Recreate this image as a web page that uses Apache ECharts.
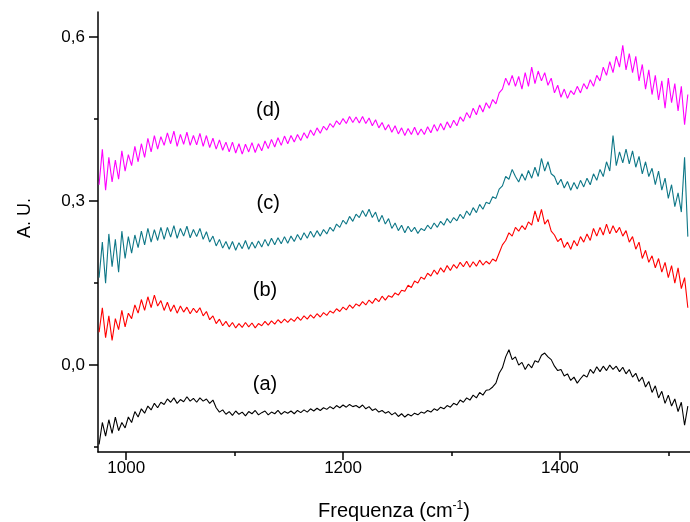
<!DOCTYPE html>
<html>
<head>
<meta charset="utf-8">
<script src="https://cdn.jsdelivr.net/npm/echarts@6/dist/echarts.min.js"></script>
<style>
html,body{margin:0;padding:0;background:#fff;}
#chart{width:690px;height:522px;}
</style>
</head>
<body>
<div id="chart"></div>
<script>
// Sampling of the spectra (cm^-1): first frequency and spacing
const freqStart = 975;
const freqStep = 3;

// (a) black
const seriesA = [
  -0.145,-0.105,-0.130,-0.100,-0.125,-0.095,-0.120,-0.105,-0.115,-0.095,
  -0.105,-0.085,-0.095,-0.080,-0.088,-0.075,-0.082,-0.070,-0.078,-0.068,
  -0.072,-0.062,-0.068,-0.060,-0.070,-0.063,-0.067,-0.058,-0.066,-0.061,
  -0.068,-0.060,-0.066,-0.062,-0.070,-0.064,-0.078,-0.086,-0.082,-0.090,
  -0.085,-0.092,-0.084,-0.090,-0.086,-0.093,-0.085,-0.089,-0.083,-0.091,
  -0.087,-0.084,-0.091,-0.086,-0.089,-0.083,-0.090,-0.085,-0.088,-0.084,
  -0.089,-0.083,-0.087,-0.082,-0.086,-0.080,-0.084,-0.079,-0.083,-0.078,
  -0.081,-0.076,-0.080,-0.074,-0.078,-0.073,-0.077,-0.072,-0.076,-0.074,
  -0.078,-0.073,-0.080,-0.076,-0.083,-0.080,-0.086,-0.083,-0.088,-0.085,
  -0.091,-0.087,-0.094,-0.089,-0.095,-0.090,-0.093,-0.088,-0.091,-0.086,
  -0.088,-0.083,-0.086,-0.080,-0.083,-0.077,-0.080,-0.074,-0.077,-0.070,
  -0.073,-0.064,-0.068,-0.060,-0.064,-0.055,-0.060,-0.050,-0.055,-0.046,
  -0.045,-0.040,-0.033,-0.015,-0.005,0.015,0.028,0.010,0.015,0.000,
  0.005,-0.008,0.002,-0.005,0.008,0.005,0.018,0.022,0.015,0.010,
  -0.002,-0.010,-0.008,-0.020,-0.016,-0.028,-0.022,-0.033,-0.025,-0.018,
  -0.022,-0.008,-0.015,-0.003,-0.012,-0.002,-0.010,0.000,-0.008,-0.002,
  -0.012,-0.004,-0.016,-0.008,-0.022,-0.015,-0.030,-0.022,-0.040,-0.030,
  -0.050,-0.038,-0.060,-0.048,-0.070,-0.055,-0.075,-0.062,-0.085,-0.068,
  -0.110,-0.075
];

// (b) red
const seriesB = [
  0.060,0.105,0.050,0.090,0.045,0.085,0.065,0.100,0.070,0.095,
  0.085,0.110,0.095,0.120,0.100,0.125,0.105,0.128,0.108,0.118,
  0.100,0.115,0.098,0.110,0.095,0.108,0.097,0.106,0.094,0.104,
  0.096,0.105,0.090,0.098,0.083,0.090,0.076,0.084,0.072,0.080,
  0.070,0.078,0.068,0.076,0.069,0.078,0.070,0.077,0.068,0.076,
  0.072,0.080,0.073,0.081,0.075,0.083,0.077,0.084,0.078,0.085,
  0.080,0.088,0.082,0.090,0.084,0.092,0.086,0.094,0.088,0.096,
  0.091,0.099,0.095,0.103,0.098,0.106,0.101,0.110,0.104,0.112,
  0.108,0.116,0.110,0.119,0.113,0.122,0.116,0.126,0.119,0.127,
  0.124,0.132,0.128,0.137,0.135,0.146,0.142,0.154,0.150,0.161,
  0.157,0.168,0.163,0.174,0.166,0.178,0.170,0.182,0.173,0.184,
  0.177,0.188,0.180,0.190,0.179,0.189,0.181,0.192,0.183,0.190,
  0.185,0.194,0.190,0.205,0.220,0.228,0.242,0.236,0.252,0.245,
  0.255,0.248,0.262,0.256,0.282,0.262,0.285,0.258,0.266,0.245,
  0.238,0.226,0.232,0.215,0.225,0.212,0.228,0.218,0.235,0.225,
  0.240,0.228,0.250,0.236,0.252,0.238,0.258,0.240,0.255,0.242,
  0.252,0.236,0.246,0.225,0.235,0.212,0.225,0.195,0.210,0.188,
  0.200,0.178,0.195,0.170,0.188,0.160,0.182,0.150,0.178,0.140,
  0.160,0.105
];

// (c) teal
const seriesC = [
  0.160,0.225,0.150,0.240,0.180,0.230,0.170,0.245,0.195,0.235,
  0.205,0.238,0.215,0.245,0.220,0.250,0.225,0.248,0.228,0.252,
  0.230,0.252,0.234,0.255,0.232,0.250,0.236,0.254,0.233,0.248,
  0.235,0.250,0.230,0.244,0.225,0.236,0.218,0.230,0.214,0.226,
  0.212,0.226,0.210,0.224,0.213,0.228,0.212,0.225,0.214,0.227,
  0.216,0.230,0.218,0.232,0.220,0.233,0.222,0.235,0.223,0.236,
  0.226,0.239,0.229,0.242,0.232,0.245,0.234,0.246,0.236,0.248,
  0.240,0.252,0.245,0.258,0.252,0.265,0.258,0.272,0.263,0.276,
  0.270,0.283,0.272,0.285,0.270,0.280,0.262,0.274,0.258,0.268,
  0.250,0.260,0.246,0.256,0.242,0.254,0.244,0.252,0.241,0.250,
  0.246,0.256,0.249,0.260,0.252,0.263,0.256,0.268,0.260,0.270,
  0.264,0.276,0.268,0.282,0.274,0.288,0.279,0.294,0.285,0.298,
  0.295,0.308,0.305,0.322,0.328,0.345,0.340,0.358,0.345,0.335,
  0.350,0.338,0.356,0.342,0.362,0.345,0.378,0.355,0.372,0.350,
  0.345,0.330,0.340,0.324,0.336,0.320,0.334,0.322,0.338,0.326,
  0.342,0.330,0.350,0.338,0.358,0.345,0.372,0.355,0.420,0.365,
  0.390,0.370,0.395,0.368,0.392,0.362,0.382,0.350,0.372,0.345,
  0.360,0.330,0.355,0.320,0.342,0.305,0.330,0.290,0.315,0.280,
  0.380,0.235
];

// (d) magenta
const seriesD = [
  0.330,0.395,0.320,0.380,0.335,0.375,0.340,0.392,0.355,0.385,
  0.365,0.400,0.372,0.405,0.380,0.415,0.390,0.420,0.395,0.418,
  0.402,0.425,0.405,0.428,0.400,0.422,0.404,0.426,0.402,0.420,
  0.403,0.424,0.400,0.420,0.398,0.415,0.395,0.412,0.393,0.408,
  0.390,0.408,0.388,0.405,0.386,0.404,0.390,0.407,0.389,0.405,
  0.392,0.410,0.396,0.413,0.399,0.416,0.402,0.419,0.405,0.420,
  0.408,0.422,0.411,0.425,0.415,0.430,0.420,0.434,0.424,0.437,
  0.430,0.442,0.435,0.447,0.440,0.451,0.442,0.455,0.444,0.454,
  0.443,0.455,0.442,0.452,0.438,0.449,0.434,0.444,0.430,0.440,
  0.426,0.438,0.423,0.434,0.420,0.433,0.422,0.435,0.421,0.432,
  0.422,0.436,0.425,0.440,0.428,0.442,0.430,0.445,0.434,0.448,
  0.438,0.454,0.446,0.462,0.452,0.470,0.458,0.476,0.463,0.480,
  0.470,0.486,0.478,0.498,0.505,0.525,0.512,0.530,0.510,0.528,
  0.505,0.535,0.510,0.545,0.515,0.538,0.520,0.535,0.512,0.525,
  0.498,0.512,0.490,0.505,0.488,0.502,0.495,0.510,0.498,0.515,
  0.505,0.522,0.510,0.530,0.520,0.545,0.530,0.555,0.535,0.565,
  0.545,0.585,0.540,0.570,0.535,0.565,0.520,0.550,0.505,0.540,
  0.495,0.530,0.485,0.520,0.470,0.525,0.480,0.515,0.465,0.510,
  0.440,0.495
];

const seriesNames = ['(a)', '(b)', '(c)', '(d)'];
const seriesColors = ['#000000', '#ff0000', '#0e7787', '#ff00ff'];
const allSeries = [seriesA, seriesB, seriesC, seriesD];

// Curve labels, placed in data coordinates
const labelFreq = [1128, 1128, 1131, 1131];
const labelValue = [-0.035, 0.137, 0.296, 0.466];

// Axis ticks
const xMajorTicks = [1000, 1200, 1400];
const xMinorTicks = [1100, 1300, 1500];
const yMajorTicks = [0, 0.3, 0.6];
const yMinorTicks = [-0.15, 0.15, 0.45];
const xMin = 974, xMax = 1520;
const yMin = -0.159, yMax = 0.646;

function toPairs(vals) {
  return vals.map((v, i) => [freqStart + i * freqStep, v]);
}

const FONT = '"Liberation Sans", Arial, sans-serif';

const lineSeries = allSeries.map((vals, k) => ({
  name: seriesNames[k],
  type: 'line',
  xAxisIndex: 0,
  yAxisIndex: 0,
  data: toPairs(vals),
  showSymbol: false,
  symbol: 'none',
  lineStyle: { color: seriesColors[k], width: 1.1 },
  itemStyle: { color: seriesColors[k] },
  animation: false,
  z: 2
}));

const labelSeries = {
  type: 'scatter',
  xAxisIndex: 0,
  yAxisIndex: 0,
  symbolSize: 1,
  data: seriesNames.map((n, k) => ({ name: n, value: [labelFreq[k], labelValue[k]] })),
  label: {
    show: true,
    position: 'inside',
    formatter: p => p.name,
    color: '#000000',
    opacity: 1,
    textBorderWidth: 0,
    fontFamily: FONT,
    fontSize: 20
  },
  itemStyle: { color: 'rgba(0,0,0,0)' },
  animation: false,
  silent: true,
  z: 5
};

const chart = echarts.init(document.getElementById('chart'), null, { renderer: 'canvas' });
chart.setOption({
  backgroundColor: '#ffffff',
  animation: false,
  grid: { left: 98, right: 0, top: 12, bottom: 70, containLabel: false, outerBoundsMode: 'none' },
  xAxis: [
    {
      type: 'value', min: xMin, max: xMax, position: 'bottom',
      name: 'Frequenza (cm{sup|-1})',
      nameLocation: 'middle',
      nameGap: 48,
      nameTextStyle: {
        fontFamily: FONT, fontSize: 20, color: '#000',
        rich: { sup: { fontSize: 12, verticalAlign: 'top', padding: [0, 0, 10, 0], fontFamily: FONT, color: '#000' } }
      },
      axisLine: { show: true, onZero: false, lineStyle: { color: '#000', width: 1.5 } },
      axisTick: { show: true, inside: false, length: 8, customValues: xMajorTicks, lineStyle: { color: '#000', width: 1.5 } },
      axisLabel: {
        show: true, customValues: xMajorTicks, margin: 8, fontFamily: FONT, fontSize: 17, color: '#000',
        formatter: v => String(v)
      },
      splitLine: { show: false }
    },
    {
      type: 'value', min: xMin, max: xMax, position: 'bottom', gridIndex: 0, offset: 0,
      axisLine: { show: false, onZero: false },
      axisTick: { show: true, inside: false, length: 4, customValues: xMinorTicks, lineStyle: { color: '#000', width: 1.5 } },
      axisLabel: { show: false },
      splitLine: { show: false }
    }
  ],
  yAxis: [
    {
      type: 'value', min: yMin, max: yMax, position: 'left',
      name: 'A. U.',
      nameLocation: 'middle',
      nameGap: 64,
      nameTextStyle: { fontFamily: FONT, fontSize: 18, color: '#000', padding: [0, 0, 0, 28] },
      axisLine: { show: true, onZero: false, lineStyle: { color: '#000', width: 1.5 } },
      axisTick: { show: true, inside: false, length: 9, customValues: yMajorTicks, lineStyle: { color: '#000', width: 1.5 } },
      axisLabel: {
        show: true, customValues: yMajorTicks, margin: 13, fontFamily: FONT, fontSize: 17, color: '#000',
        formatter: v => v.toFixed(1).replace('.', ',')
      },
      splitLine: { show: false }
    },
    {
      type: 'value', min: yMin, max: yMax, position: 'left', gridIndex: 0, offset: 0,
      axisLine: { show: false, onZero: false },
      axisTick: { show: true, inside: false, length: 4, customValues: yMinorTicks, lineStyle: { color: '#000', width: 1.5 } },
      axisLabel: { show: false },
      splitLine: { show: false }
    }
  ],
  series: lineSeries.concat([labelSeries])
});
</script>
</body>
</html>
